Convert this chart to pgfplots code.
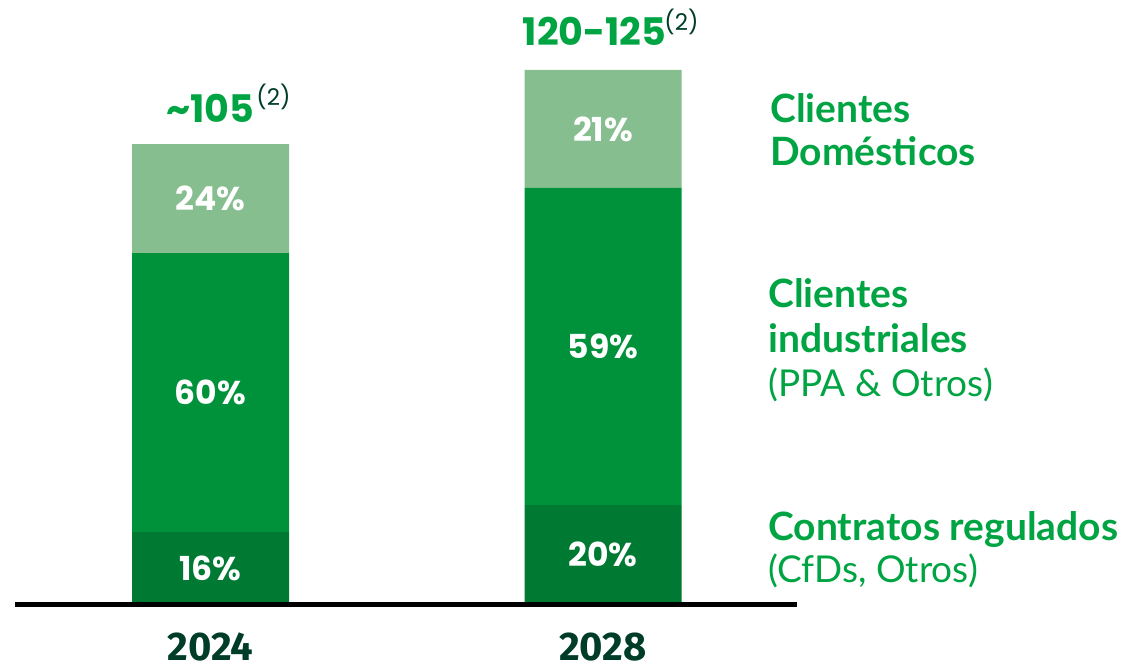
\documentclass[border=0pt]{standalone}
\usepackage{fontspec}
\usepackage{pgfplots}
\pgfplotsset{compat=1.18}
\setmainfont{Lato}
\newfontfamily\poppinsfont{Poppins}
\newfontfamily\firafont{Fira Sans}
\definecolor{cdark}{HTML}{007A33}
\definecolor{cmid}{HTML}{00923A}
\definecolor{clight}{HTML}{86BE8F}
\definecolor{ctext}{HTML}{00A443}
\definecolor{cyear}{HTML}{003D29}
\tikzset{
  pct/.style={font=\poppinsfont\bfseries\fontsize{16.5}{18}\selectfont, text=white},
  tot/.style={anchor=base, text=ctext, font=\poppinsfont\bfseries\fontsize{19}{20}\selectfont},
  sup/.style={anchor=base west, inner sep=0pt, text=cyear, font=\poppinsfont\fontsize{11.5}{13}\selectfont},
  legb/.style={anchor=base west, inner sep=0pt, text=ctext, font=\bfseries\fontsize{19.5}{21}\selectfont},
  legr/.style={anchor=base west, inner sep=0pt, text=ctext, font=\fontsize{18.5}{21}\selectfont},
  yr/.style={anchor=base, inner sep=0pt, text=cyear, font=\firafont\bfseries\fontsize{20}{21}\selectfont}
}
\begin{document}
\begin{tikzpicture}
\begin{axis}[scale only axis, width=563.5pt, height=335pt,
  xmin=0, xmax=1127, ymin=-15.06, ymax=137.87,
  hide axis, ybar stacked, bar width=78.5pt, clip=false]
\addplot[fill=cdark, draw=none] coordinates {(210.5,16.4) (603,22.6)};
\addplot[fill=cmid, draw=none] coordinates {(210.5,63.7) (603,72.4)};
\addplot[fill=clight, draw=none] coordinates {(210.5,24.9) (603,26.9)};
\path (axis cs:0,-15.06) rectangle (axis cs:1127,137.87);
\coordinate (L1) at (axis cs:15,0);
\coordinate (L2) at (axis cs:797,0);
\coordinate (a1) at (axis cs:210.5,8.2);
\coordinate (a2) at (axis cs:210.5,48.25);
\coordinate (a3) at (axis cs:210.5,92.55);
\coordinate (b1) at (axis cs:603,11.3);
\coordinate (b2) at (axis cs:603,58.8);
\coordinate (b3) at (axis cs:603,108.45);
\coordinate (t1) at (axis cs:210,110.0);
\coordinate (s1) at (axis cs:256,113.7);
\coordinate (t2) at (axis cs:594.5,127.4);
\coordinate (s2) at (axis cs:664,131.0);
\coordinate (g1) at (axis cs:770,110.0);
\coordinate (g2) at (axis cs:770,100.2);
\coordinate (g3) at (axis cs:768,67.6);
\coordinate (g4) at (axis cs:768,57.3);
\coordinate (g5) at (axis cs:768,47.3);
\coordinate (g6) at (axis cs:768,14.6);
\coordinate (g7) at (axis cs:768,4.8);
\coordinate (y1) at (axis cs:210.5,-13.0);
\coordinate (y2) at (axis cs:603,-13.0);
\end{axis}
\draw[black, line width=2.5pt] (L1) -- (L2);
\node[pct] at (a1) {16\%};
\node[pct] at (a2) {60\%};
\node[pct] at (a3) {24\%};
\node[pct] at (b1) {20\%};
\node[pct] at (b2) {59\%};
\node[pct] at (b3) {21\%};
\node[tot] at (t1) {\textasciitilde105};
\node[sup] at (s1) {(2)};
\node[tot] at (t2) {120-125};
\node[sup] at (s2) {(2)};
\node[legb] at (g1) {Clientes};
\node[legb] at (g2) {Domésticos};
\node[legb] at (g3) {Clientes};
\node[legb] at (g4) {industriales};
\node[legr] at (g5) {(PPA \& Otros)};
\node[legb] at (g6) {Contratos regulados};
\node[legr] at (g7) {(CfDs, Otros)};
\node[yr] at (y1) {2024};
\node[yr] at (y2) {2028};
\end{tikzpicture}
\end{document}
